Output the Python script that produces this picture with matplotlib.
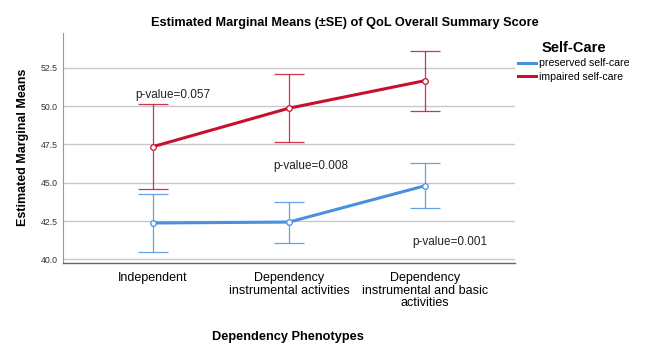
import numpy as np
import matplotlib
matplotlib.use("Agg")
import matplotlib.pyplot as plt
from matplotlib.lines import Line2D

plt.rcParams['font.family'] = ['Liberation Sans', 'DejaVu Sans']

# ---- dữ liệu ----
categories = ["Independent",
              "Dependency\ninstrumental activities",
              "Dependency\ninstrumental and basic\nactivities"]
preserved_mean = [42.37, 42.43, 44.80]
preserved_err = [1.87, 1.34, 1.47]
impaired_mean = [47.35, 49.86, 51.66]
impaired_err = [2.77, 2.20, 1.96]
series_labels = ["preserved self-care", "impaired self-care"]
p_labels = ["p-value=0.057", "p-value=0.008", "p-value=0.001"]
y_ticks = [40.0, 42.5, 45.0, 47.5, 50.0, 52.5]

BLUE = '#4A90E2'
RED = '#C8102E'

fig = plt.figure(figsize=(6.46, 3.45), dpi=100)
ax = fig.add_axes([0.0975, 0.239, 0.6995, 0.665])

x = np.arange(len(categories))

for mean, err, col in [(preserved_mean, preserved_err, BLUE),
                       (impaired_mean, impaired_err, RED)]:
    ax.errorbar(x, mean, yerr=err, fmt='none', ecolor=col, elinewidth=0.9,
                capsize=10.8, capthick=0.9, alpha=0.85, zorder=3)
    ax.plot(x, mean, color=col, lw=2.2, marker='o', ms=4,
            mfc='white', mec=col, mew=0.9, zorder=4)

# chú thích p-value
p_pos = [(-0.13, 50.70), (0.882, 46.07), (1.904, 41.13)]
for (px, py), txt in zip(p_pos, p_labels):
    ax.text(px, py, txt, fontsize=8.5, ha='left', va='center', color='#222222')

ax.set_xlim(-0.66, 2.66)
ax.set_ylim(39.79, 54.76)
ax.set_xticks(x)
ax.set_xticklabels(categories, fontsize=9, linespacing=1.05)
ax.set_yticks(y_ticks)
ax.set_yticklabels([f"{v:.1f}" for v in y_ticks], fontsize=6.3, color='#333333')
ax.tick_params(axis='both', length=0)
ax.tick_params(axis='x', pad=7)
ax.tick_params(axis='y', pad=4)

ax.yaxis.grid(True, color='#c8c8c8', lw=1.0)
ax.set_axisbelow(True)
for s in ['top', 'right']:
    ax.spines[s].set_visible(False)
ax.spines['left'].set_color('#999999')
ax.spines['bottom'].set_color('#666666')
ax.spines['bottom'].set_linewidth(1.0)

fig.text(0.534, 0.933, "Estimated Marginal Means (\u00b1SE) of QoL Overall Summary Score",
         ha='center', va='center', fontsize=9.2, fontweight='bold')
fig.text(0.0356, 0.574, "Estimated Marginal Means", rotation=90,
         ha='center', va='center', fontsize=9, fontweight='bold')
fig.text(0.446, 0.024, "Dependency Phenotypes",
         ha='center', va='center', fontsize=9.2, fontweight='bold')

handles = [Line2D([], [], color=BLUE, lw=2.2),
           Line2D([], [], color=RED, lw=2.2)]
leg = fig.legend(handles, series_labels, loc='upper left',
                 bbox_to_anchor=(0.787, 0.91), frameon=False,
                 fontsize=7.6, handlelength=1.7, handletextpad=0.3,
                 labelspacing=0.35, title="Self-Care",
                 title_fontproperties={'weight': 'bold', 'size': 10.5})

fig.savefig("out.png", dpi=100)
